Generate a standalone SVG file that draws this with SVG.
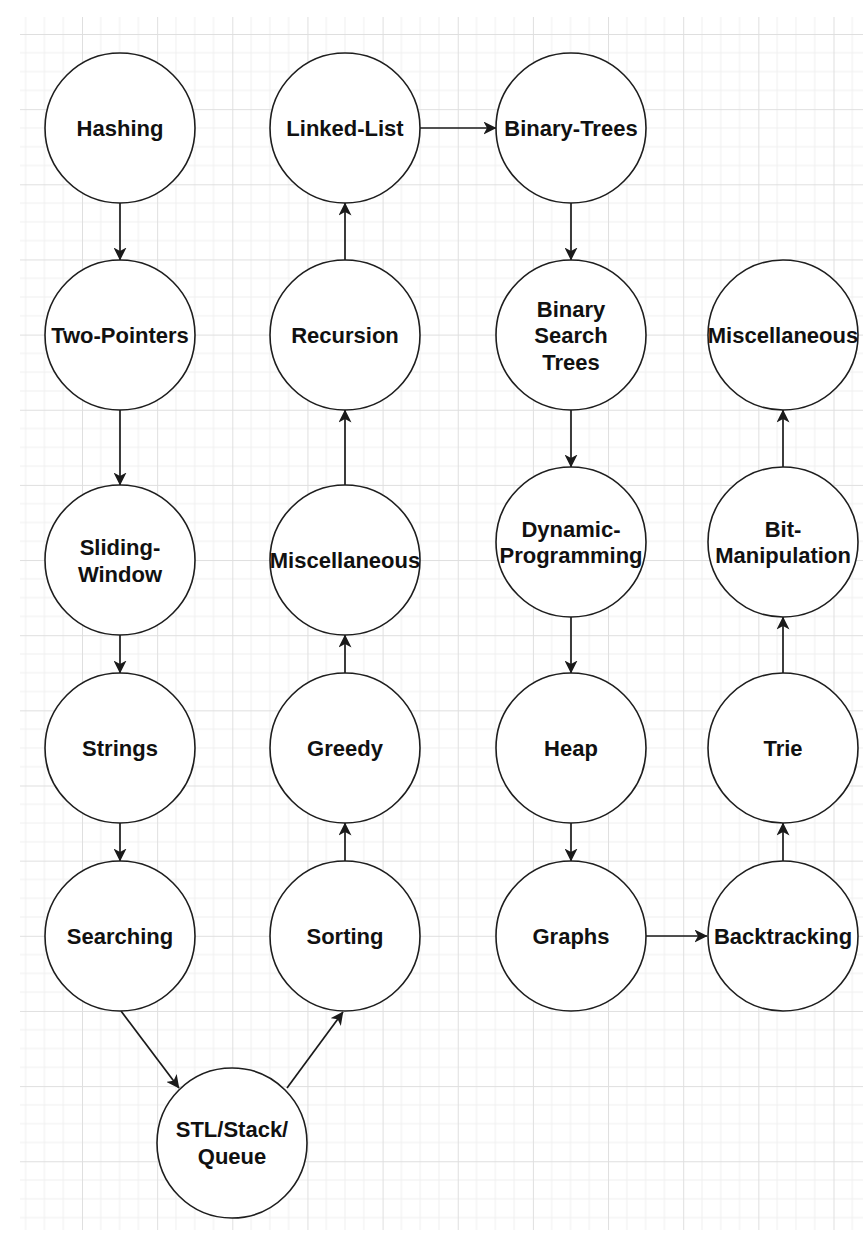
<svg xmlns="http://www.w3.org/2000/svg" width="863" height="1236" viewBox="0 0 863 1236">
  <style>
    .node circle { fill: #ffffff; stroke: #1e1e1e; stroke-width: 1.6; }
    .node text { font-family: "Liberation Sans", Arial, Helvetica, sans-serif; font-weight: bold; font-size: 22px; fill: #111111; text-anchor: middle; }
    .edge { stroke: #1a1a1a; stroke-width: 1.7; fill: none; marker-end: url(#arrow); }
  </style>
  <defs>
    <!-- background grid: one major cell with three minor subdivisions -->
    <pattern id="grid" patternUnits="userSpaceOnUse" x="6.85" y="34" width="75.15" height="75.15">
      <path d="M18.79 0V75.15M37.58 0V75.15M56.36 0V75.15M0 18.79H75.15M0 37.58H75.15M0 56.36H75.15" stroke="#f0f0f0" stroke-width="1"/>
      <path d="M0.5 0V75.15M0 0.5H75.15" stroke="#dfdfdf" stroke-width="1"/>
    </pattern>
    <marker id="arrow" markerUnits="userSpaceOnUse" viewBox="0 0 13 13" refX="12.5" refY="6.5" markerWidth="13" markerHeight="13" orient="auto">
      <path d="M0,0 L13,6.5 L0,13 L3.5,6.5 Z" fill="#1a1a1a"/>
    </marker>
  </defs>

  <rect width="863" height="1236" fill="#ffffff"/>
  <rect x="20" y="17" width="843" height="1213" fill="url(#grid)"/>

  <g id="connectors">
    <line class="edge" x1="120" y1="203" x2="120" y2="260"/>
    <line class="edge" x1="120" y1="410" x2="120" y2="485"/>
    <line class="edge" x1="120" y1="635" x2="120" y2="673"/>
    <line class="edge" x1="120" y1="823" x2="120" y2="861"/>
    <line class="edge" x1="121" y1="1011" x2="179" y2="1088"/>
    <line class="edge" x1="287" y1="1088" x2="343" y2="1012"/>
    <line class="edge" x1="345" y1="861" x2="345" y2="823"/>
    <line class="edge" x1="345" y1="673" x2="345" y2="635"/>
    <line class="edge" x1="345" y1="485" x2="345" y2="410"/>
    <line class="edge" x1="345" y1="260" x2="345" y2="203"/>
    <line class="edge" x1="420" y1="128" x2="496" y2="128"/>
    <line class="edge" x1="571" y1="203" x2="571" y2="260"/>
    <line class="edge" x1="571" y1="410" x2="571" y2="467"/>
    <line class="edge" x1="571" y1="617" x2="571" y2="673"/>
    <line class="edge" x1="571" y1="823" x2="571" y2="861"/>
    <line class="edge" x1="646" y1="936" x2="707" y2="936"/>
    <line class="edge" x1="783" y1="861" x2="783" y2="823"/>
    <line class="edge" x1="783" y1="673" x2="783" y2="617"/>
    <line class="edge" x1="783" y1="467" x2="783" y2="410"/>
  </g>

  <g id="hashing" class="node"><circle cx="120" cy="128" r="75"/><text x="120" y="136">Hashing</text></g>
  <g id="two-pointers" class="node"><circle cx="120" cy="335" r="75"/><text x="120" y="343">Two-Pointers</text></g>
  <g id="sliding-window" class="node"><circle cx="120" cy="560" r="75"/><text x="120" y="555">Sliding-</text><text x="120" y="582">Window</text></g>
  <g id="strings" class="node"><circle cx="120" cy="748" r="75"/><text x="120" y="756">Strings</text></g>
  <g id="searching" class="node"><circle cx="120" cy="936" r="75"/><text x="120" y="944">Searching</text></g>
  <g id="stl-stack-queue" class="node"><circle cx="232" cy="1143" r="75"/><text x="232" y="1137">STL/Stack/</text><text x="232" y="1164">Queue</text></g>

  <g id="sorting" class="node"><circle cx="345" cy="936" r="75"/><text x="345" y="944">Sorting</text></g>
  <g id="greedy" class="node"><circle cx="345" cy="748" r="75"/><text x="345" y="756">Greedy</text></g>
  <g id="miscellaneous-1" class="node"><circle cx="345" cy="560" r="75"/><text x="345" y="568">Miscellaneous</text></g>
  <g id="recursion" class="node"><circle cx="345" cy="335" r="75"/><text x="345" y="343">Recursion</text></g>
  <g id="linked-list" class="node"><circle cx="345" cy="128" r="75"/><text x="345" y="136">Linked-List</text></g>

  <g id="binary-trees" class="node"><circle cx="571" cy="128" r="75"/><text x="571" y="136">Binary-Trees</text></g>
  <g id="binary-search-trees" class="node"><circle cx="571" cy="335" r="75"/><text x="571" y="317">Binary</text><text x="571" y="343">Search</text><text x="571" y="370">Trees</text></g>
  <g id="dynamic-programming" class="node"><circle cx="571" cy="542" r="75"/><text x="571" y="537">Dynamic-</text><text x="571" y="563">Programming</text></g>
  <g id="heap" class="node"><circle cx="571" cy="748" r="75"/><text x="571" y="756">Heap</text></g>
  <g id="graphs" class="node"><circle cx="571" cy="936" r="75"/><text x="571" y="944">Graphs</text></g>

  <g id="backtracking" class="node"><circle cx="783" cy="936" r="75"/><text x="783" y="944">Backtracking</text></g>
  <g id="trie" class="node"><circle cx="783" cy="748" r="75"/><text x="783" y="756">Trie</text></g>
  <g id="bit-manipulation" class="node"><circle cx="783" cy="542" r="75"/><text x="783" y="537">Bit-</text><text x="783" y="563">Manipulation</text></g>
  <g id="miscellaneous-2" class="node"><circle cx="783" cy="335" r="75"/><text x="783" y="343">Miscellaneous</text></g>
</svg>
